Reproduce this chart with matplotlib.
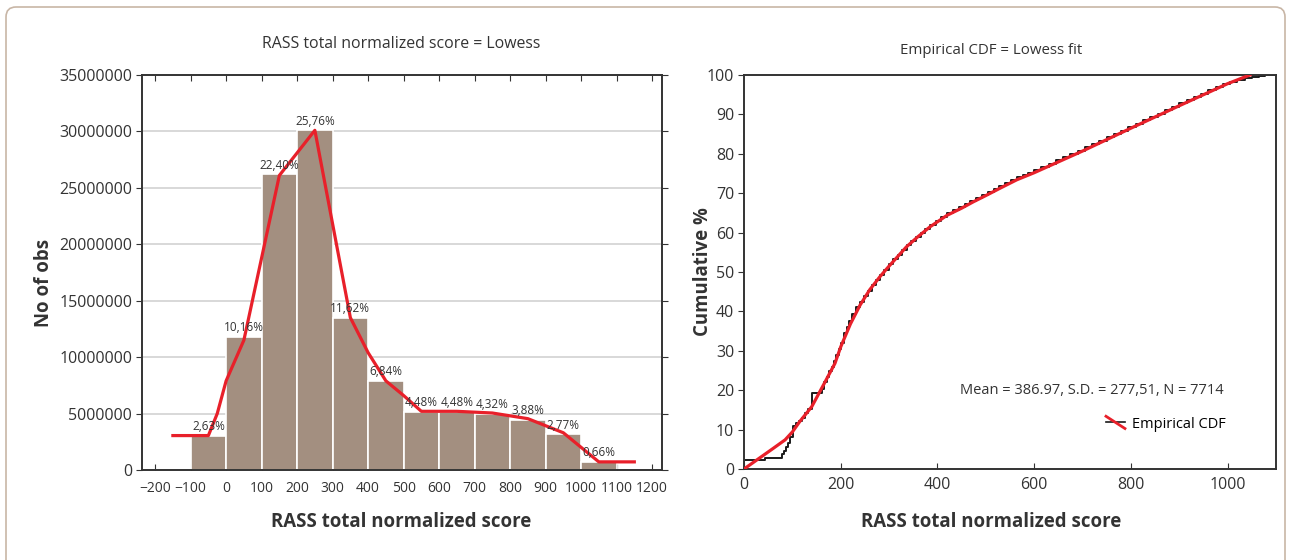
import matplotlib
matplotlib.use("Agg")
import matplotlib.pyplot as plt
from matplotlib.lines import Line2D
from matplotlib.legend_handler import HandlerBase
from matplotlib.patches import FancyBboxPatch
from matplotlib.transforms import IdentityTransform

plt.rcParams['font.family'] = ['Open Sans', 'DejaVu Sans']

# histogram (left)
bin_left = [-100, 0, 100, 200, 300, 400, 500, 600, 700, 800, 900, 1000]
bin_counts = [3.0e6, 11.8e6, 26.2e6, 30.1e6, 13.5e6, 7.9e6,
              5.15e6, 5.15e6, 5.0e6, 4.45e6, 3.15e6, 0.7e6]
bin_pct = ['2,63%', '10,16%', '22,40%', '25,76%', '11,62%', '6,84%',
           '4,48%', '4,48%', '4,32%', '3,88%', '2,77%', '0,66%']

# lowess curve over histogram
lowess_x = [-150, -50, -25, 0, 50, 150, 250, 350, 400, 450, 500, 550,
            650, 750, 850, 950, 1050, 1150]
lowess_y = [3.05e6, 3.05e6, 5.0e6, 7.9e6, 11.5e6, 26.1e6, 30.1e6, 13.5e6,
            10.4e6, 7.9e6, 6.6e6, 5.2e6, 5.2e6, 5.05e6, 4.55e6, 3.3e6,
            0.72e6, 0.72e6]

# empirical CDF (right), step positions and levels
ecdf_x = [0, 0, 44, 78, 82, 86, 90, 96, 102, 108, 114, 120, 126, 132, 141,
          161, 166, 171, 176, 181, 186, 191, 196, 201, 207, 213, 218, 224,
          232, 240, 248, 256, 264, 272, 281, 290, 300, 309, 318, 327, 336,
          345, 355, 365, 375, 385, 396, 408, 420, 432, 444, 456, 468, 480,
          492, 504, 516, 528, 540, 552, 564, 576, 588, 600, 615, 630, 645,
          660, 675, 690, 705, 720, 735, 750, 765, 780, 795, 810, 825, 840,
          855, 870, 885, 900, 915, 930, 945, 960, 975, 990, 1005, 1020,
          1035, 1050, 1065, 1078, 1088, 1100]
ecdf_y = [0, 2.4, 2.9, 3.7, 4.6, 5.6, 6.5, 8.2, 10.9, 11.6, 12.3, 13.0,
          14.2, 15.3, 19.2, 20.4, 22.0, 23.4, 24.8, 26.0, 27.4, 29.0, 30.5,
          32.0, 34.5, 36.0, 37.5, 39.3, 41.0, 42.5, 44.0, 45.3, 46.7, 47.9,
          49.3, 50.6, 52.0, 53.2, 54.4, 55.6, 56.8, 57.9, 58.9, 59.9, 60.9,
          61.9, 62.9, 63.9, 64.9, 65.7, 66.4, 67.2, 68.0, 68.8, 69.5, 70.3,
          71.0, 71.8, 72.5, 73.3, 74.0, 74.6, 75.2, 75.8, 76.7, 77.5, 78.3,
          79.1, 79.9, 80.7, 81.6, 82.5, 83.3, 84.2, 85.0, 85.9, 86.8, 87.6,
          88.5, 89.3, 90.2, 91.0, 91.9, 92.8, 93.6, 94.5, 95.3, 96.1, 96.9,
          97.6, 98.2, 98.8, 99.2, 99.5, 99.75, 99.9, 100, 100]

# lowess fit of the CDF
fit_x = [0, 30, 60, 85, 100, 115, 140, 165, 188, 200, 220, 240, 260, 281,
         300, 336, 360, 385, 420, 450, 474, 500, 530, 564, 600, 700, 800,
         900, 1000, 1046]
fit_y = [0, 2.6, 5.2, 7.4, 9.4, 12.0, 15.8, 21.5, 26.8, 31.0, 36.8, 41.6,
         45.5, 48.8, 51.5, 56.4, 59.0, 61.5, 64.4, 66.2, 67.8, 69.4, 71.3,
         73.4, 75.2, 80.7, 86.5, 92.2, 97.8, 100]

stats_text = 'Mean = 386.97, S.D. = 277,51, N = 7714'

bar_color = '#a38f80'
red = '#e8202a'
spine_color = '#333333'
text_color = '#333333'

fig = plt.figure(figsize=(12.89, 5.6), dpi=100)

# rounded frame around the figure
frame = FancyBboxPatch((6, -30), 1279, 560 - 7 + 30,
                       boxstyle='round,pad=0,rounding_size=10',
                       transform=IdentityTransform(), fill=False,
                       edgecolor='#c8b6a6', linewidth=1.2)
fig.patches.append(frame)

ax1 = fig.add_axes([142 / 1289, 90 / 560, 520 / 1289, 395 / 560])
ax2 = fig.add_axes([744 / 1289, 91 / 560, 532 / 1289, 394 / 560])

# --- left: histogram
ax1.bar(bin_left, bin_counts, width=100, align='edge', color=bar_color,
        edgecolor='white', linewidth=1.2, zorder=2)
ax1.plot(lowess_x, lowess_y, color=red, lw=2.3, zorder=3)
for x, h, p in zip(bin_left, bin_counts, bin_pct):
    ax1.annotate(p, (x + 50, h), xytext=(0, 2), textcoords='offset points',
                 ha='center', va='bottom', fontsize=8.5, color=text_color,
                 zorder=4)
ax1.set_xlim(-237, 1228)
ax1.set_ylim(0, 35000000)
ax1.set_xticks(range(-200, 1201, 100))
ax1.set_yticks(range(0, 35000001, 5000000))
ax1.set_yticklabels([str(v) for v in range(0, 35000001, 5000000)])
ax1.yaxis.grid(True, color='#d2d2d2', lw=1.2, zorder=0)
ax1.set_axisbelow(True)
ax1.tick_params(axis='x', direction='in', top=True, length=4,
                labelsize=10, colors=spine_color, pad=8)
ax1.tick_params(axis='y', direction='out', right=True, length=4,
                labelsize=11.5, colors=spine_color, pad=3)

# --- right: ECDF
ax2.plot(ecdf_x, ecdf_y, drawstyle='steps-post', color='#1a1a1a', lw=1.4,
         zorder=2)
ax2.plot(fit_x, fit_y, color=red, lw=2.3, zorder=3)
ax2.set_xlim(0, 1100)
ax2.set_ylim(0, 100)
ax2.set_xticks(range(0, 1001, 200))
ax2.set_yticks(range(0, 101, 10))
ax2.tick_params(axis='x', direction='in', length=4, labelsize=11.5,
                colors=spine_color, pad=6)
ax2.tick_params(axis='y', direction='out', length=4, labelsize=11.5,
                colors=spine_color, pad=3)
ax2.text(992, 20, stats_text, ha='right', va='center', fontsize=10.5,
         color=text_color)


class CrossHandler(HandlerBase):
    def create_artists(self, legend, orig_handle, xdescent, ydescent,
                       width, height, fontsize, trans):
        black = Line2D([0, width], [height / 2, height / 2], color='#1a1a1a',
                       lw=1.2, transform=trans)
        redl = Line2D([0, width], [height * 1.1, -height * 0.1], color=red,
                      lw=2.0, transform=trans)
        return [black, redl]


ax2.legend([Line2D([], [])], ['Empirical CDF'],
           handler_map={Line2D: CrossHandler()}, loc='center right',
           bbox_to_anchor=((1226 - 744) / 532, (469 - 424) / 394),
           frameon=False, fontsize=10.5, handlelength=1.3,
           handletextpad=0.5, borderpad=0, borderaxespad=0)

for ax in (ax1, ax2):
    for s in ax.spines.values():
        s.set_color(spine_color)
        s.set_linewidth(1.4)

# titles and axis labels
fig.text(401 / 1289, 1 - 44 / 560, 'RASS total normalized score = Lowess',
         ha='center', va='center', fontsize=11.4, color=text_color)
fig.text(991 / 1289, 1 - 51 / 560, 'Empirical CDF = Lowess fit',
         ha='center', va='center', fontsize=10.8, color=text_color)
fig.text(401 / 1289, 1 - 522 / 560, 'RASS total normalized score',
         ha='center', va='center', fontsize=13.4, fontweight='bold',
         color=text_color)
fig.text(991 / 1289, 1 - 522 / 560, 'RASS total normalized score',
         ha='center', va='center', fontsize=13.4, fontweight='bold',
         color=text_color)
fig.text(44 / 1289, 1 - 283 / 560, 'No of obs', rotation=90,
         ha='center', va='center', fontsize=13.4, fontweight='bold',
         color=text_color)
fig.text(703 / 1289, 1 - 272 / 560, 'Cumulative %', rotation=90,
         ha='center', va='center', fontsize=13.4, fontweight='bold',
         color=text_color)

fig.savefig('out.png', dpi=100)
